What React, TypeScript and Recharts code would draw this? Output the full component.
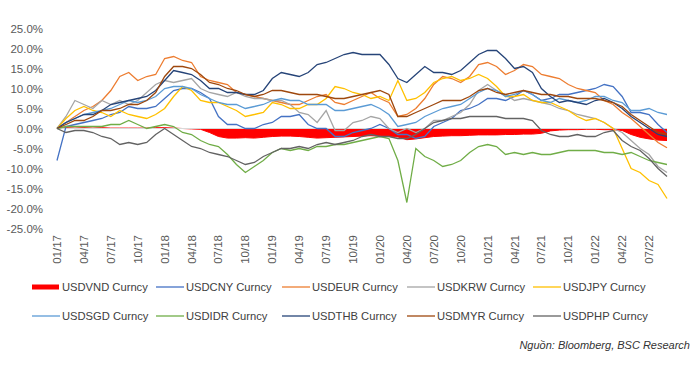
import React from 'react';
import { ComposedChart, Line, Area, XAxis, YAxis, ReferenceLine } from 'recharts';

const months = [
  '01/17','02/17','03/17','04/17','05/17','06/17','07/17','08/17','09/17','10/17','11/17','12/17',
  '01/18','02/18','03/18','04/18','05/18','06/18','07/18','08/18','09/18','10/18','11/18','12/18',
  '01/19','02/19','03/19','04/19','05/19','06/19','07/19','08/19','09/19','10/19','11/19','12/19',
  '01/20','02/20','03/20','04/20','05/20','06/20','07/20','08/20','09/20','10/20','11/20','12/20',
  '01/21','02/21','03/21','04/21','05/21','06/21','07/21','08/21','09/21','10/21','11/21','12/21',
  '01/22','02/22','03/22','04/22','05/22','06/22','07/22','08/22','09/22',
];

const yTicks = [-25, -20, -15, -10, -5, 0, 5, 10, 15, 20, 25];

const vnd = [
  0, 0.2, 0.1, 0.2, 0.1, 0.2, 0.1, 0.1, 0.1, 0.1,
  0.1, 0.2, 0.2, 0.1, 0, -0.1, -0.2, -1.0, -2.0, -2.4,
  -2.4, -2.3, -2.4, -2.2, -2.0, -1.9, -1.9, -2.0, -2.2, -2.4,
  -2.3, -2.2, -2.1, -2.0, -1.9, -1.8, -1.9, -2.0, -2.1, -2.8,
  -2.6, -2.3, -2.0, -1.9, -1.8, -1.8, -1.7, -1.6, -1.6, -1.6,
  -1.5, -1.5, -1.4, -1.4, -1.2, -0.6, -0.4, -0.3, -0.3, -0.2,
  -0.2, -0.3, -0.3, -0.5, -1.5, -2.2, -2.6, -2.9, -3.0,
];
const cny = [
  -8, 0.5, 1, 1.5, 2, 2.5, 3.5, 4, 5.5, 5,
  5, 5.5, 7.5, 9.5, 10, 10, 9, 7.5, 3, 1,
  1, 0, 0, 1, 1.5, 3, 3, 3.5, 1, 0,
  0, -2, -2, -1, -0.5, 0, 1, 0, -1.5, -1.5,
  -2.5, -2, 0.5, 1.5, 2.5, 4.5, 5, 6, 7.5, 7.5,
  7, 8, 9.5, 8.5, 7, 7.5, 8.5, 8.5, 9, 9.5,
  10, 11, 10.5, 8, 4, 4, 3.5, 1, -1,
];
const eur = [
  0, 1.5, 3, 4.5, 5.5, 7, 9.5, 13, 14, 12,
  13, 13.5, 17.5, 18, 17, 16.5, 13, 12, 11.5, 11,
  9, 8.5, 8, 7.5, 7, 6.5, 6, 6, 7, 8,
  8.5, 6.5, 6, 7, 8, 9, 7.5, 6.5, 3, 3.5,
  5, 7.5, 11, 13, 12.5, 11.5, 13, 16, 16.5, 15.5,
  13.5, 14.5, 16, 15.5, 13.5, 13, 12.5, 11, 10, 9.5,
  9, 7, 6, 4, 2.5, 0.5, -1.5, -3.5, -4.8,
];
const krw = [
  0, 3, 7, 6, 5, 7, 6, 7, 6, 7,
  9, 11, 12, 11.5, 12, 12.5, 10, 9, 8.5, 8,
  9, 8, 7.5, 7.5, 7, 7, 6, 4, 3.5, 1.5,
  4.5, -0.5, -0.5, 1.5, 2, 3, 2.5, 0, -1, 0,
  -1, 0, 2, 2, 3, 4, 6, 9.5, 11, 9.5,
  8.5, 7, 7.5, 7, 6.5, 6, 5, 4.5, 3.5, 3,
  2.5, 1.5, 0, -1, -3, -5, -6.5, -9.5, -11,
];
const jpy = [
  0, 2.5, 4.5, 5.5, 4.5, 4, 3, 4.5, 3.5, 3,
  2.5, 3.5, 5, 8, 10.5, 9.5, 7, 6.5, 6.5, 5.5,
  4.5, 3, 3.5, 4, 6.5, 6, 5, 5, 6, 6,
  7.5, 10.5, 10, 9, 8.5, 7.5, 8, 7, 12, 7,
  7.5, 9, 11.5, 12.5, 13, 12, 12.5, 13.5, 12.5, 10.5,
  8, 8, 8.5, 7, 6.5, 6.5, 5.5, 4.5, 3, 2,
  2.5, 1.5, 0, -5, -10, -11, -13, -14, -17.5,
];
const sgd = [
  0, 1.5, 2.5, 3.5, 4, 4.5, 5, 6, 7, 6.5,
  7, 8, 10, 10.5, 10.5, 10, 8.5, 7.5, 6.5, 6,
  6, 5, 5.5, 6, 7, 7.5, 7, 7, 6, 6,
  6, 4.5, 4.5, 5, 5.5, 6, 5, 3.5, 0.5, 1,
  1.5, 3, 4, 5, 5.5, 6, 7.5, 9, 10, 9.5,
  8, 8.5, 9.5, 8.5, 7, 6.5, 7.5, 7, 6.5, 7,
  8, 8, 7, 6.5, 4.5, 4.5, 5, 4, 3.5,
];
const idr = [
  0, 0.5, 0.5, 0.5, 0.5, 0.5, 1, 1, 2, 1,
  0, 0.5, 1, 0.5, -1, -1.5, -3, -4, -4.5, -6.5,
  -9, -11, -9.5, -8, -6, -5, -5.5, -5, -5.5, -4.5,
  -4.5, -4, -4, -3.5, -3, -2.5, -2, -2.5, -8, -18.5,
  -5, -7, -8, -9.5, -9, -8, -6, -4.5, -4, -4.5,
  -6.5, -6, -6.5, -6, -6.5, -6.5, -6, -5.5, -5.5, -5.5,
  -5.5, -6, -6, -6.5, -6, -7, -8, -8.5, -9,
];
const thb = [
  0, 1.5, 2.5, 3.5, 3.5, 4.5, 6, 6.5, 7, 7.5,
  8, 9.5, 12, 14.5, 14, 13.5, 12, 10, 10, 9,
  9, 8.5, 8.5, 9.5, 12.5, 14, 13.5, 13, 14, 16,
  16.5, 17.5, 18.5, 19, 18.5, 18.5, 18.5, 16, 12.5, 11.5,
  13.5, 15.5, 14, 14, 13.5, 14.5, 16.5, 18.5, 19.5, 19.5,
  17.5, 15, 15.5, 14, 10, 8, 6.5, 7, 6.5, 6,
  7, 7.5, 6.5, 5, 3, 1.5, 0, -1.5, -2,
];
const myr = [
  0, 1, 2, 2, 3, 4.5, 4.5, 5, 6, 6,
  7, 9, 13, 15.5, 15.5, 15, 13.5, 11.5, 11, 10,
  9.5, 8.5, 8, 8.5, 9.5, 9.5, 9, 8.5, 8.5, 8.5,
  8, 7.5, 7.5, 8, 8.5, 9, 9.5, 8.5, 3, 3,
  4, 5, 6, 7, 7, 7, 8, 9.5, 10, 9,
  8.5, 9, 9.5, 9, 8.5, 8.5, 8, 8, 7.5, 7.5,
  7.5, 7, 6.5, 5.5, 3.5, 2, 0.5, -1, -1.5,
];
const php = [
  0, -1, -0.5, -0.5, -1, -2, -2.5, -4, -3.5, -4,
  -3.5, -1.5, 0, -1.5, -3, -4.5, -5, -6, -6.5, -7,
  -8, -9, -8.5, -7, -6, -5, -5, -4.5, -5, -4,
  -3.5, -4, -3.5, -3, -2, -1.5, -2, -2, -2.5, -2.5,
  -1.5, 0, 1.5, 2, 2.5, 2.5, 3, 3, 3, 3,
  2.5, 2.5, 2.5, 2, -0.5, -1.5, -2, -2, -1.5, -2,
  -2, -1, -0.5, -3, -4.5, -5.5, -7.5, -10, -12,
];

const series = [
  { key: 'USDCNY Curncy', values: cny, color: '#4472C4' },
  { key: 'USDEUR Curncy', values: eur, color: '#ED7D31' },
  { key: 'USDKRW Curncy', values: krw, color: '#A5A5A5' },
  { key: 'USDJPY Curncy', values: jpy, color: '#FFC000' },
  { key: 'USDSGD Curncy', values: sgd, color: '#5B9BD5' },
  { key: 'USDIDR Curncy', values: idr, color: '#70AD47' },
  { key: 'USDTHB Curncy', values: thb, color: '#264478' },
  { key: 'USDMYR Curncy', values: myr, color: '#9E480E' },
  { key: 'USDPHP Curncy', values: php, color: '#636363' },
];
const vndKey = 'USDVND Curncy';
const vndColor = '#FF0000';

const data = months.map((label, i) => {
  const row: any = { label, [vndKey]: vnd[i] };
  series.forEach((s) => { row[s.key] = s.values[i]; });
  return row;
});

const FONT = "'Liberation Sans', Arial, sans-serif";

const XTick = (props: any) => {
  const { x, y, payload } = props;
  return (
    <text
      x={x}
      y={y}
      transform={`rotate(-90 ${x} ${y})`}
      textAnchor="end"
      dominantBaseline="central"
      fontSize={11.5}
      fill="#595959"
      fontFamily={FONT}
    >
      {payload.value}
    </text>
  );
};

const legendCols = [32, 156, 282, 407, 533];
const legendRows = [287, 316];
const legendItems = [
  { name: vndKey, color: vndColor, rect: true },
  { name: 'USDCNY Curncy', color: '#4472C4' },
  { name: 'USDEUR Curncy', color: '#ED7D31' },
  { name: 'USDKRW Curncy', color: '#A5A5A5' },
  { name: 'USDJPY Curncy', color: '#FFC000' },
  { name: 'USDSGD Curncy', color: '#5B9BD5' },
  { name: 'USDIDR Curncy', color: '#70AD47' },
  { name: 'USDTHB Curncy', color: '#264478' },
  { name: 'USDMYR Curncy', color: '#9E480E' },
  { name: 'USDPHP Curncy', color: '#636363' },
];

export default function App() {
  return (
    <div style={{ position: 'absolute', left: 0, top: 0, width: 700, height: 366, background: '#fff' }}>
      <ComposedChart
        width={700}
        height={366}
        data={data}
        margin={{ top: 28.5, right: 33, bottom: 97.5, left: 0 }}
      >
        <XAxis
          dataKey="label"
          interval={2}
          axisLine={false}
          tickLine={false}
          tickSize={0}
          tickMargin={6.5}
          height={40}
          tick={<XTick />}
        />
        <YAxis
          domain={[-25, 25]}
          ticks={yTicks}
          width={57}
          axisLine={false}
          tickLine={false}
          tickSize={6}
          tickMargin={8}
          tickFormatter={(v: number) => `${v.toFixed(1)}%`}
          tick={{ fontSize: 11.5, fill: '#595959', fontFamily: FONT }}
          allowDataOverflow
        />
        <ReferenceLine y={0} stroke="#D9D9D9" strokeWidth={1} />
        <Area
          dataKey={vndKey}
          type="linear"
          stroke={vndColor}
          strokeWidth={1}
          fill={vndColor}
          fillOpacity={1}
          isAnimationActive={false}
          dot={false}
          activeDot={false}
        />
        {series.map((s) => (
          <Line
            key={s.key}
            dataKey={s.key}
            type="linear"
            stroke={s.color}
            strokeWidth={1.3}
            dot={false}
            activeDot={false}
            isAnimationActive={false}
          />
        ))}
      </ComposedChart>
      <svg
        width={700}
        height={366}
        style={{ position: 'absolute', left: 0, top: 0, pointerEvents: 'none' }}
      >
        {legendItems.map((it, i) => {
          const x = legendCols[i % 5];
          const y = legendRows[Math.floor(i / 5)];
          return (
            <g key={it.name}>
              {it.rect ? (
                <rect x={x} y={y - 2.5} width={27} height={5} fill={it.color} />
              ) : (
                <line x1={x} x2={x + 28} y1={y} y2={y} stroke={it.color} strokeWidth={1.3} />
              )}
              <text
                x={x + 30}
                y={y}
                dominantBaseline="central"
                fontSize={11.2}
                fill="#404040"
                fontFamily={FONT}
              >
                {it.name}
              </text>
            </g>
          );
        })}
        <text
          x={690}
          y={345}
          textAnchor="end"
          dominantBaseline="central"
          fontSize={11}
          fontStyle="italic"
          fill="#333333"
          fontFamily={FONT}
        >
          Nguồn: Bloomberg, BSC Research
        </text>
      </svg>
    </div>
  );
}
